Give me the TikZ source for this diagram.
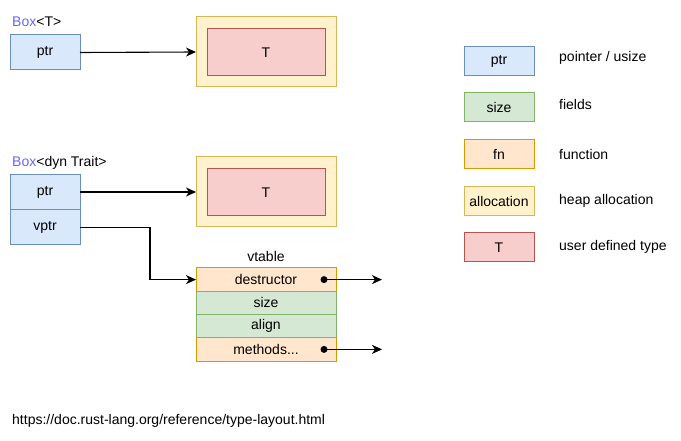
\documentclass[tikz,border=0pt]{standalone}
\usepackage{fontspec}
\setmainfont{Liberation Sans}
\usetikzlibrary{arrows.meta}
\definecolor{bluef}{HTML}{DAE8FC}\definecolor{blued}{HTML}{6C8EBF}
\definecolor{greenf}{HTML}{D5E8D4}\definecolor{greend}{HTML}{82B366}
\definecolor{orangef}{HTML}{FFE6CC}\definecolor{oranged}{HTML}{D79B00}
\definecolor{yellowf}{HTML}{FFF2CC}\definecolor{yellowd}{HTML}{D6B656}
\definecolor{redf}{HTML}{F8CECC}\definecolor{redd}{HTML}{B85450}
\definecolor{boxblue}{HTML}{6666FF}
\begin{document}
\begin{tikzpicture}[x=1pt,y=-1pt,
  font=\fontsize{14}{16}\selectfont,
  cell/.style={draw, line width=1pt, inner sep=0pt, outer sep=0pt, minimum width=70pt},
  ptrcell/.style={cell, fill=bluef, draw=blued},
  fieldcell/.style={cell, fill=greenf, draw=greend},
  fncell/.style={cell, fill=orangef, draw=oranged},
  alloccell/.style={cell, fill=yellowf, draw=yellowd},
  tcell/.style={cell, fill=redf, draw=redd},
  vrow/.style={minimum width=140pt, minimum height=23.25pt},
  arr/.style={line width=1.1pt, -{Stealth[length=10pt,width=9pt,inset=3pt]}},
  lbl/.style={inner sep=0pt, anchor=base west},
  dotmark/.style={circle, fill=black, inner sep=0pt, minimum size=7pt}]
\useasboundingbox (0,0) rectangle (681,441);

% Box<T>
\node[lbl] (lbox1) at (12,27) {\textcolor{boxblue}{Box}<T>};
\node[ptrcell, minimum height=35pt] (ptr1) at (45,52.5) {ptr};
\node[alloccell, minimum width=140pt, minimum height=70pt] (alloc1) at (266,52) {};
\node[tcell, minimum width=118pt, minimum height=47pt] (t1) at (266,52.5) {T};
\draw[arr] (ptr1.east) -- (alloc1.west);

% Box<dyn Trait>
\node[lbl] (lbox2) at (12,167) {\textcolor{boxblue}{Box}<dyn Trait>};
\node[ptrcell, minimum height=35.5pt] (ptr2) at (45,192) {ptr};
\node[ptrcell, minimum height=35pt] (vptr) at (45,227.5) {vptr};
\node[alloccell, minimum width=140pt, minimum height=70pt] (alloc2) at (266,192) {};
\node[tcell, minimum width=118pt, minimum height=47pt] (t2) at (266,192.5) {T};
\draw[arr] (ptr2.east) -- (alloc2.west);

% vtable
\node[inner sep=0pt] (vtlbl) at (266,256) {vtable};
\node[fncell, vrow] (dtor) at (266,279.6) {destructor};
\node[fieldcell, vrow] (vsize) at (266,302.9) {size};
\node[fieldcell, vrow] (valign) at (266,326.1) {align};
\node[fncell, vrow] (meth) at (266,349.4) {methods...};
\coordinate (turn) at (150,0);
\draw[arr] (vptr.east) -- (vptr.east -| turn) |- (dtor.west);
\node[dotmark] (dot1) at (324,279.6) {};
\node[dotmark] (dot2) at (324,349.4) {};
\coordinate (end1) at (382,279.6);
\coordinate (end2) at (382,349.4);
\draw[arr] (dot1.center) -- (end1);
\draw[arr] (dot2.center) -- (end2);

% legend
\node[ptrcell, minimum height=29pt] (lg1) at (499,61) {ptr};
\node[fieldcell, minimum height=29pt] (lg2) at (499,107.5) {size};
\node[fncell, minimum height=29pt] (lg3) at (499,154.5) {fn};
\node[alloccell, minimum height=29pt] (lg4) at (499,201.5) {allocation};
\node[tcell, minimum height=29pt] (lg5) at (499,247.5) {T};
\node[inner sep=0pt, anchor=west] (lt1) at (559,58) {pointer / usize};
\node[inner sep=0pt, anchor=west] (lt2) at (559,104) {fields};
\node[inner sep=0pt, anchor=west] (lt3) at (559,154) {function};
\node[inner sep=0pt, anchor=west] (lt4) at (559,201) {heap allocation};
\node[inner sep=0pt, anchor=west] (lt5) at (559,247) {user defined type};

% url
\node[lbl] (url) at (12,424) {https://doc.rust-lang.org/reference/type-layout.html};
\end{tikzpicture}
\end{document}
